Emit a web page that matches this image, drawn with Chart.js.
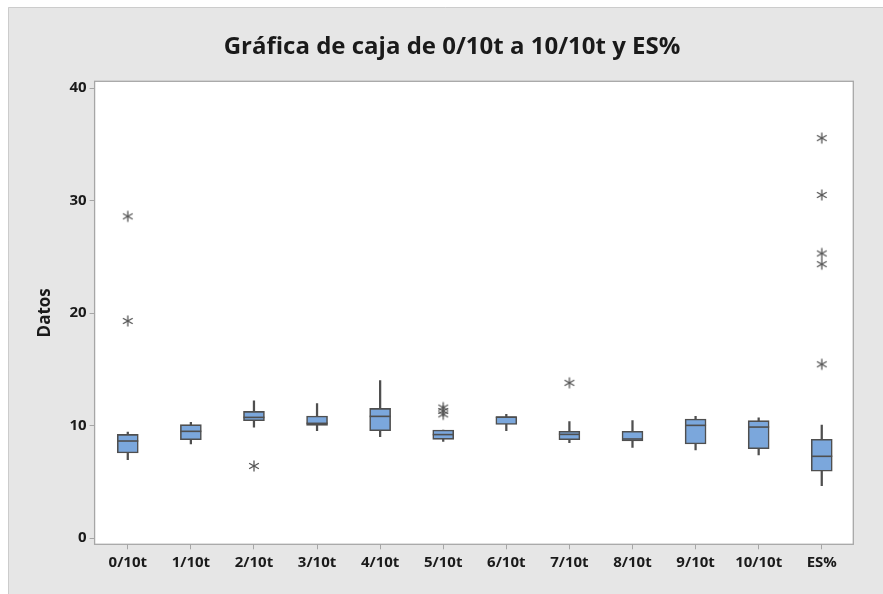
<!DOCTYPE html>
<html>
<head>
<meta charset="utf-8">
<script src="https://cdn.jsdelivr.net/npm/chart.js@4.4.1/dist/chart.umd.min.js"></script>
<style>
  html, body { margin: 0; padding: 0; background: #ffffff; }
  #wrap { width: 883px; height: 594px; }
</style>
</head>
<body>
<div id="wrap"><canvas id="c" width="883" height="594"></canvas></div>
<script>
// Box plot data per column
const categories  = ['0/10t', '1/10t', '2/10t', '3/10t', '4/10t', '5/10t', '6/10t', '7/10t', '8/10t', '9/10t', '10/10t', 'ES%'];
const whiskerLow  = [6.98, 8.37, 9.87, 9.55, 9.02, 8.60, 9.55, 8.49, 8.07, 7.83, 7.39, 4.67];
const q1          = [7.57, 8.75, 10.44, 10.02, 9.55, 8.78, 10.10, 8.75, 8.63, 8.37, 7.95, 5.94];
const median      = [8.63, 9.49, 10.73, 10.20, 10.82, 9.20, 10.76, 9.22, 8.81, 10.02, 9.87, 7.27];
const q3          = [9.22, 10.08, 11.26, 10.85, 11.53, 9.61, 10.78, 9.49, 9.49, 10.58, 10.44, 8.78];
const whiskerHigh = [9.43, 10.29, 12.21, 11.95, 13.99, 9.61, 11.00, 10.35, 10.44, 10.82, 10.70, 10.05];
// Outliers: column index and value
const outlierCat  = [0, 0, 2, 5, 5, 5, 7, 11, 11, 11, 11, 11];
const outlierVal  = [28.6, 19.3, 6.41, 11.0, 11.3, 11.6, 13.8, 35.55, 30.5, 25.3, 24.35, 15.45];
const yTickValues = [0, 10, 20, 30, 40];
const titleText   = 'Gráfica de caja de 0/10t a 10/10t y ES%';

const EDGE = '#4f4f4f';
const BOX_FILL = '#7ba7dc';
const FONT = "'Open Sans', 'Noto Sans', sans-serif";

// Six-ray asterisk marker
function makeAsterisk() {
  const s = 14, c = document.createElement('canvas');
  c.width = s; c.height = s;
  const g = c.getContext('2d');
  g.strokeStyle = '#555555'; g.lineWidth = 1.3; g.lineCap = 'butt';
  const r = 5.6, cx = s / 2, cy = s / 2;
  [90, 30, 150].forEach(a => {
    const t = a * Math.PI / 180, dx = Math.cos(t) * r, dy = Math.sin(t) * r;
    g.beginPath(); g.moveTo(cx - dx, cy - dy); g.lineTo(cx + dx, cy + dy); g.stroke();
  });
  return c;
}
const asterisk = makeAsterisk();

const frameAndBackground = {
  id: 'frameAndBackground',
  beforeDraw(chart) {
    const { ctx, chartArea: a, width, height } = chart;
    ctx.save();
    ctx.fillStyle = '#ffffff';
    ctx.fillRect(0, 0, width, height);
    ctx.fillStyle = '#e6e6e6';
    ctx.fillRect(8, 7, width - 8, height - 7);
    ctx.strokeStyle = '#cccccc';
    ctx.lineWidth = 1;
    ctx.beginPath();
    ctx.moveTo(8.5, height); ctx.lineTo(8.5, 7.5); ctx.lineTo(width, 7.5);
    ctx.stroke();
    ctx.fillStyle = '#ffffff';
    ctx.fillRect(a.left, a.top, a.right - a.left, a.bottom - a.top);
    // chart title
    ctx.fillStyle = '#1a1a1a';
    ctx.font = `bold 24px ${FONT}`;
    ctx.textAlign = 'center';
    ctx.textBaseline = 'middle';
    ctx.fillText(titleText, 452, 47);
    ctx.restore();
  },
  afterDraw(chart) {
    const { ctx, chartArea: a } = chart;
    ctx.save();
    ctx.strokeStyle = '#a6a6a6';
    ctx.lineWidth = 1.3;
    ctx.strokeRect(a.left, a.top, a.right - a.left, a.bottom - a.top);
    ctx.restore();
  }
};

// Median line across each box
const medianLines = {
  id: 'medianLines',
  afterDatasetsDraw(chart) {
    const meta = chart.getDatasetMeta(1);
    const ys = chart.scales.y;
    const { ctx } = chart;
    ctx.save();
    ctx.strokeStyle = EDGE;
    ctx.lineWidth = 1.6;
    meta.data.forEach((bar, i) => {
      const y = ys.getPixelForValue(median[i]);
      const half = bar.width / 2;
      ctx.beginPath();
      ctx.moveTo(bar.x - half, y);
      ctx.lineTo(bar.x + half, y);
      ctx.stroke();
    });
    ctx.restore();
  }
};

new Chart(document.getElementById('c'), {
  type: 'bar',
  data: {
    datasets: [
      {
        label: 'Bigotes',
        data: categories.map((_, i) => ({ x: i, y: [whiskerLow[i], whiskerHigh[i]] })),
        backgroundColor: EDGE,
        borderWidth: 0,
        barThickness: 1.6,
        grouped: false,
        order: 3
      },
      {
        label: 'Caja',
        data: categories.map((_, i) => ({ x: i, y: [q1[i], q3[i]] })),
        backgroundColor: BOX_FILL,
        borderColor: EDGE,
        borderWidth: 1.6,
        borderSkipped: false,
        barThickness: 21,
        grouped: false,
        order: 2
      },
      {
        type: 'scatter',
        label: 'Valores atípicos',
        data: outlierCat.map((c, i) => ({ x: c, y: outlierVal[i] })),
        pointStyle: asterisk,
        pointRadius: 6,
        order: 1
      }
    ]
  },
  options: {
    responsive: false,
    animation: false,
    devicePixelRatio: 1,
    layout: { padding: { left: 0, right: 29.7, top: 81.3, bottom: 0 } },
    plugins: {
      legend: { display: false },
      tooltip: { enabled: false },
      title: { display: false }
    },
    scales: {
      x: {
        type: 'linear',
        offset: false,
        min: -0.526,
        max: 11.5,
        afterBuildTicks: s => { s.ticks = categories.map((_, i) => ({ value: i })); },
        afterFit: s => { s.height = 49.7; },
        ticks: {
          autoSkip: false,
          maxRotation: 0,
          padding: 4,
          color: '#1a1a1a',
          font: { family: FONT, size: 15, weight: 'bold' },
          callback: v => categories[v]
        },
        grid: { offset: false, drawOnChartArea: false, tickLength: 5, color: '#a6a6a6', lineWidth: 1 },
        border: { display: false }
      },
      y: {
        type: 'linear',
        min: -0.55,
        max: 40.6,
        afterBuildTicks: s => { s.ticks = yTickValues.map(v => ({ value: v })); },
        afterFit: s => { s.width = 94.6; },
        ticks: {
          padding: 3,
          color: '#1a1a1a',
          font: { family: FONT, size: 15, weight: 'bold' }
        },
        grid: { drawOnChartArea: false, tickLength: 5, color: '#a6a6a6', lineWidth: 1 },
        border: { display: false },
        title: {
          display: true,
          text: 'Datos',
          color: '#1a1a1a',
          font: { family: FONT, size: 17, weight: 'bold' },
          padding: { top: 34.8, bottom: 0 }
        }
      }
    }
  },
  plugins: [frameAndBackground, medianLines]
});
</script>
</body>
</html>
